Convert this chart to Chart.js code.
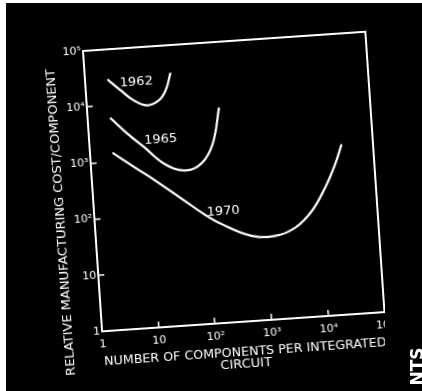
<!doctype html>
<html>
<head>
<title>Relative manufacturing cost per component</title>
<script src="https://cdn.jsdelivr.net/npm/chart.js@4.4.0/dist/chart.umd.min.js"></script>
<style>
    html, body { margin: 0; padding: 0; background: #000; width: 422px; height: 391px; overflow: hidden; }
    #wrap { position: absolute; left: 13px; top: 21px; width: 480px; height: 430px;
            transform-origin: 70px 30px; transform: rotate(-3.9deg); }
    #edgeTop { position: absolute; left: 0; top: 0; width: 422px; height: 3px; background: #fff; }
    #edgeLeft { position: absolute; left: 0; top: 0; width: 6px; height: 391px; background: #fff; }
    #mask { position: absolute; left: 385px; top: 290px; width: 40px; height: 110px; background: #000; }
    #nts { position: absolute; left: 395px; top: 358px; width: 40px; height: 17px; line-height: 17px;
           text-align: center; color: #fff; font: bold 17px "DejaVu Sans"; transform: rotate(-90deg); }
</style>
</head>

<body>
<div id="wrap"><canvas id="chart" width="480" height="430"></canvas></div>
<div id="mask"></div>
<div id="nts">NTS</div>
<div id="edgeTop"></div>
<div id="edgeLeft"></div>

<script>
    // log axes, 1 .. 10^5 both ways
    const tickValues = [1, 10, 100, 1000, 10000, 100000];
    const tickLabels = ['1', '10', '10²', '10³', '10⁴', '10⁵'];

    const years = ['1962', '1965', '1970'];

    // components per circuit / relative cost
    const x1962 = [2.5, 4.1, 6.8, 11.6, 18.9, 25.6, 32.8];
    const y1962 = [29200, 18150, 11600, 9080, 10740, 15800, 32100];
    const x1965 = [2.5, 4.8, 9.1, 19.7, 43.7, 88, 149, 214];
    const y1965 = [6040, 3030, 1670, 796, 571, 713, 1556, 6800];
    const x1970 = [2.5, 5.75, 14.3, 40.4, 85, 169, 560, 1445, 3340, 6870, 12570, 20100, 27900];
    const y1970 = [1440, 760, 384, 167, 92, 58, 32.7, 30.4, 40.2, 75.5, 188, 473, 1076];

    // where the year names sit (data units)
    const labelX = [8, 18.4, 190];
    const labelY = [24000, 2170, 95];

    const toPoints = (xs, ys) => xs.map((x, i) => ({x: x, y: ys[i]}));

    const frameAndLabels = {
        id: 'frameAndLabels',
        afterDatasetsDraw(chart) {
            const {ctx, chartArea: a, scales} = chart;
            ctx.save();
            ctx.strokeStyle = '#fff';
            ctx.lineWidth = 2;
            ctx.strokeRect(a.left, a.top, a.right - a.left, a.bottom - a.top);
            ctx.fillStyle = '#fff';
            ctx.font = '13px "DejaVu Sans"';
            ctx.textAlign = 'center';
            ctx.textBaseline = 'middle';
            years.forEach((yr, i) => {
                ctx.fillText(yr, scales.x.getPixelForValue(labelX[i]), scales.y.getPixelForValue(labelY[i]));
            });
            ctx.restore();
        }
    };

    const line = (xs, ys) => ({
        data: toPoints(xs, ys),
        borderColor: '#fff',
        borderWidth: 2.2,
        pointRadius: 0,
        tension: 0.4,
        fill: false
    });

    const tickFont = {family: 'DejaVu Sans', size: 11};
    const titleColor = '#fff';

    new Chart(document.getElementById('chart'), {
        type: 'line',
        data: {
            datasets: [line(x1962, y1962), line(x1965, y1965), line(x1970, y1970)]
        },
        plugins: [frameAndLabels],
        options: {
            responsive: false,
            animation: false,
            layout: { padding: {left: 0, top: 30, right: 127, bottom: 59} },
            plugins: { legend: {display: false}, tooltip: {enabled: false} },
            scales: {
                x: {
                    type: 'logarithmic',
                    min: 1,
                    max: 100000,
                    afterBuildTicks: s => { s.ticks = tickValues.map(v => ({value: v})); },
                    afterFit: s => { s.height = 60; },
                    ticks: {
                        color: '#fff', font: tickFont, padding: 13,
                        maxRotation: 0, autoSkip: false,
                        callback: (v, i) => tickLabels[i]
                    },
                    grid: { drawOnChartArea: false, tickLength: -6, color: '#fff', lineWidth: 1.5 },
                    border: { display: false },
                    title: {
                        display: true,
                        text: ['NUMBER OF COMPONENTS PER INTEGRATED', 'CIRCUIT'],
                        color: titleColor,
                        font: {family: 'DejaVu Sans', size: 13, lineHeight: 0.92},
                        padding: {top: 0, bottom: 11}
                    }
                },
                y: {
                    type: 'logarithmic',
                    min: 1,
                    max: 100000,
                    afterBuildTicks: s => { s.ticks = tickValues.map(v => ({value: v})); },
                    afterFit: s => { s.width = 70; },
                    ticks: {
                        color: '#fff', font: tickFont, padding: 8,
                        autoSkip: false,
                        callback: (v, i) => tickLabels[i]
                    },
                    grid: { drawOnChartArea: false, tickLength: -6, color: '#fff', lineWidth: 1.5 },
                    border: { display: false },
                    title: {
                        display: true,
                        // trailing spaces push the words down, as in the scan
                        text: 'RELATIVE MANUFACTURING COST/COMPONENT              ',
                        color: titleColor,
                        font: {family: 'DejaVu Sans', size: 13},
                        padding: {top: 29, bottom: 0}
                    }
                }
            }
        }
    });
</script>

</body>
</html>
